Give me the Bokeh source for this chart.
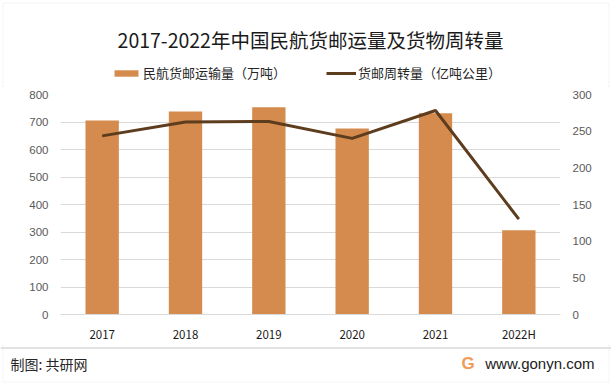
from bokeh.plotting import figure
from bokeh.layouts import column
from bokeh.models import (Range1d, LinearAxis, FixedTicker, Label, Legend, LegendItem,
                          BoxAnnotation, Span, FactorRange, ColumnDataSource)
from bokeh.embed import file_html
from bokeh.resources import INLINE

years = ["2017", "2018", "2019", "2020", "2021", "2022H"]
cargo = [705.9, 738.5, 753.2, 676.6, 731.8, 306.0]          # 万吨
turnover = [243.6, 262.5, 263.2, 240.2, 278.2, 130.0]       # 亿吨公里
left_ticks = [0, 100, 200, 300, 400, 500, 600, 700, 800]
right_ticks = [0, 50, 100, 150, 200, 250, 300]

title_text = "2017-2022年中国民航货邮运量及货物周转量"
bar_label = "民航货邮运输量（万吨）"
line_label = "货邮周转量（亿吨公里）"
footer_left = "制图: 共研网"
footer_right = "www.gonyn.com"

CJK = "Noto Sans CJK SC"
BAR_C = "#D48B4D"
LINE_C = "#5E3C1E"
GRID_C = "#d9d9d9"
W = 611
HH, MH, FH = 86, 259, 40


def bare_fig(h):
    f = figure(width=W, height=h, x_range=Range1d(0, W), y_range=Range1d(0, h),
               output_backend="svg", toolbar_location=None, title=None,
               x_axis_location=None, y_axis_location=None, min_border=0,
               outline_line_color=None, background_fill_color="white",
               border_fill_color="white")
    f.frame_align = False
    f.grid.visible = False
    return f


# ---------- header: title + legend ----------
hdr = bare_fig(HH)
hdr.add_layout(BoxAnnotation(left=2.5, right=W - 2.5, top=HH - 2.5, bottom=-10,
                             fill_alpha=0, line_color=GRID_C, line_width=1))
hdr.add_layout(Label(x=310, y=HH - 38.5, text=title_text, text_align="center",
                     text_baseline="middle", text_font_size="19.5px", text_font=CJK,
                     text_color="#1a1a1a"))
idx = list(range(len(years)))
# legend keys: same series, hidden in this strip (only their legend swatch is shown)
bar_key = hdr.vbar(x=idx, top=cargo, width=0.4, fill_color=BAR_C, line_color=None, visible=False)
line_key = hdr.line(x=idx, y=turnover, line_color=LINE_C, line_width=3, visible=False)
legend = Legend(items=[LegendItem(label=bar_label, renderers=[bar_key]),
                       LegendItem(label=line_label, renderers=[line_key])],
                orientation="horizontal", location=(111, 4),
                glyph_width=30, glyph_height=8, label_standoff=2, spacing=40,
                padding=0, margin=0, border_line_color=None, background_fill_alpha=0,
                inactive_fill_alpha=0,
                label_text_font=CJK, label_text_font_size="13px", label_text_color="#262626")
hdr.add_layout(legend)

# ---------- main chart ----------
src = ColumnDataSource(dict(year=years, cargo=cargo, turnover=turnover))
p = figure(width=W, height=MH, x_range=FactorRange(*years), y_range=Range1d(0, 800),
           output_backend="svg", toolbar_location=None, title=None,
           min_border_left=60, min_border_right=51, min_border_top=8, min_border_bottom=31,
           outline_line_color=None, background_fill_color="white", border_fill_color="white")
p.x_range.range_padding = 0
p.extra_y_ranges = {"r": Range1d(0, 300)}

p.vbar(x="year", top="cargo", width=0.4, source=src, fill_color=BAR_C, line_color=None)
p.line(x="year", y="turnover", source=src, y_range_name="r", line_color=LINE_C, line_width=3)

ya = p.yaxis[0]
ya.ticker = FixedTicker(ticks=left_ticks)
ra = LinearAxis(y_range_name="r", ticker=FixedTicker(ticks=right_ticks))
p.add_layout(ra, "right")
for ax in (ya, ra):
    ax.axis_line_color = None
    ax.major_tick_line_color = None
    ax.minor_tick_line_color = None
    ax.major_tick_out = 0
    ax.minor_tick_out = 0
    ax.major_label_text_font_size = "11.5px"
    ax.major_label_text_color = "#595959"
    ax.major_label_text_font = "Liberation Sans"
    ax.major_label_standoff = 12

xa = p.xaxis[0]
xa.axis_line_color = GRID_C
xa.major_tick_line_color = None
xa.minor_tick_line_color = None
xa.major_tick_out = 0
xa.minor_tick_out = 0
xa.major_label_text_font_size = "11.5px"
xa.major_label_text_color = "#1a1a1a"
xa.major_label_text_font = CJK
xa.major_label_standoff = 11

p.ygrid.ticker = FixedTicker(ticks=left_ticks)
p.ygrid.grid_line_color = GRID_C
p.xgrid.grid_line_color = None

# ---------- footer ----------
ftr = bare_fig(FH)
ftr.add_layout(BoxAnnotation(left=2.5, right=W - 2.5, top=FH + 10, bottom=3.5,
                             fill_alpha=0, line_color=GRID_C, line_width=1))
ftr.add_layout(Span(location=FH - 2.5, dimension="width", line_color=GRID_C, line_width=1.5))
ftr.add_layout(Label(x=10, y=FH - 18, text=footer_left, text_align="left",
                     text_baseline="middle", text_font_size="14px", text_font=CJK,
                     text_color="#262626"))
ftr.add_layout(Label(x=594, y=FH - 18, text=footer_right, text_align="right",
                     text_baseline="middle", text_font_size="15px",
                     text_font="Liberation Sans", text_color="#222222"))
ftr.add_layout(Label(x=467.5, y=FH - 18, text="G", text_align="center",
                     text_baseline="middle", text_font_size="17px", text_font_style="bold",
                     text_font="Liberation Sans", text_color="#F29A5A"))

layout = column(hdr, p, ftr, spacing=0,
                styles={"outline": "1px solid #d9d9d9", "outline-offset": "-3px"})

open("out.html", "w").write(file_html(layout, INLINE))
